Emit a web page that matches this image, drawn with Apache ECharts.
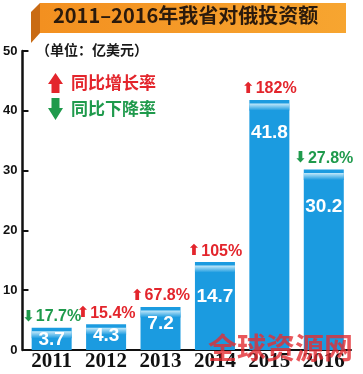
<!DOCTYPE html>
<html><head><meta charset="utf-8">
<script src="https://cdn.jsdelivr.net/npm/echarts@6/dist/echarts.min.js"></script>
<style>html,body{margin:0;padding:0;background:#fff}#c{width:363px;height:374px}</style>
</head><body><div id="c"></div>
<script>
const years = ['2011','2012','2013','2014','2015','2016'];
const values = [3.7, 4.3, 7.2, 14.7, 41.8, 30.2];
const changePct = ['17.7%', '15.4%', '67.8%', '105%', '182%', '27.8%'];
const changeDir = ['down', 'up', 'up', 'up', 'up', 'down'];
const yTicks = [0, 10, 20, 30, 40, 50];

// layout-only: vertical drop of value labels inside bars (px)
const valueLabelDrop = [-3, -3, 2, 20, 18, 23];

const RED = '#e3252c', GREEN = '#1f9a4c', BLUE = '#1b9be0';
const chart = echarts.init(document.getElementById('c'), null, {renderer: 'canvas'});

const pctData = values.map((v, i) => ({
  value: v,
  label: {
    formatter: changeDir[i] === 'up' ? '{ua|⬆}{u|' + changePct[i] + '}' : '{da|⬇}{d|' + changePct[i] + '}'
  }
}));
const valData = values.map((v, i) => ({
  value: v,
  label: { offset: [0, valueLabelDrop[i]] }
}));

chart.setOption({
  animation: false,
  grid: { left: 24, right: 12, top: 51, bottom: 24 },
  xAxis: {
    type: 'category', data: years,
    axisLine: { lineStyle: { color: '#111', width: 2 } },
    axisTick: { show: false },
    axisLabel: { color: '#111', fontFamily: 'Liberation Serif', fontWeight: 'bold', fontSize: 21, margin: 1, interval: 0 }
  },
  yAxis: {
    type: 'value', min: yTicks[0], max: yTicks[yTicks.length - 1], interval: 10, offset: 2,
    axisLine: { show: true, lineStyle: { color: '#111', width: 2.5 } },
    axisTick: { show: true, inside: true, length: 6, lineStyle: { color: '#111', width: 2 } },
    splitLine: { show: false },
    axisLabel: { color: '#111', fontFamily: 'Arial, Liberation Sans', fontWeight: 'bold', fontSize: 13, margin: 5 }
  },
  series: [
    {
      type: 'bar', data: pctData, barWidth: 40, barGap: '-100%', z: 2,
      itemStyle: { color: BLUE },
      label: {
        show: true, position: 'top', distance: 3,
        rich: {
          ua: { color: RED, fontSize: 15, fontFamily: 'DejaVu Sans', fontWeight: 'bold', padding: [0, 1, 0, 0] },
          u: { color: RED, fontSize: 16, fontFamily: 'Liberation Sans', fontWeight: 'bold' },
          da: { color: GREEN, fontSize: 15, fontFamily: 'DejaVu Sans', fontWeight: 'bold', padding: [0, 1, 0, 0] },
          d: { color: GREEN, fontSize: 16, fontFamily: 'Liberation Sans', fontWeight: 'bold' }
        }
      }
    },
    {
      type: 'pictorialBar', data: values, barWidth: 40, z: 3,
      symbol: 'rect', symbolSize: [40, 7], symbolPosition: 'end', symbolOffset: [0, '50%'],
      itemStyle: {
        color: new echarts.graphic.LinearGradient(0, 0, 0, 1, [
          { offset: 0, color: '#c4e9fa' }, { offset: 1, color: BLUE }
        ])
      }
    },
    {
      type: 'bar', data: valData, barWidth: 40, barGap: '-100%', z: 4,
      itemStyle: { color: 'rgba(0,0,0,0)' },
      label: {
        show: true, position: 'insideTop', distance: 5,
        color: '#fff', fontSize: 19, fontFamily: 'Liberation Sans', fontWeight: 'bold'
      }
    }
  ],
  graphic: [
    { type: 'polygon', shape: { points: [[31, 12], [40, 3], [40, 33], [31, 43]] }, style: { fill: '#c96b14' }, z: 10 },
    { type: 'rect', shape: { x: 40, y: 3, width: 306, height: 30 },
      style: { fill: new echarts.graphic.LinearGradient(0, 0, 1, 0, [{ offset: 0, color: '#f39020' }, { offset: 1, color: '#f7a530' }]) }, z: 10 },
    { type: 'text', left: 53, top: 5, z: 11,
      style: { text: '2011–2016年我省对俄投资额', fill: '#2b1a0c', font: 'bold 20px "Noto Sans CJK SC"' } },
    { type: 'text', left: 36, top: 43, z: 11,
      style: { text: '（单位：亿美元）', fill: '#1a1a1a', font: 'bold 14px "Noto Sans CJK SC"' } },
    { type: 'polygon', shape: { points: [[48, 84], [55.5, 73], [63, 84], [59.5, 84], [59.5, 93], [51.5, 93], [51.5, 84]] }, style: { fill: RED }, z: 11 },
    { type: 'text', left: 71, top: 74, z: 11,
      style: { text: '同比增长率', fill: RED, font: 'bold 17px "Noto Sans CJK SC"' } },
    { type: 'polygon', shape: { points: [[51.5, 98], [59.5, 98], [59.5, 108], [63, 108], [55.5, 120], [48, 108], [51.5, 108]] }, style: { fill: GREEN }, z: 11 },
    { type: 'text', left: 71, top: 100, z: 11,
      style: { text: '同比下降率', fill: GREEN, font: 'bold 17px "Noto Sans CJK SC"' } },
    { type: 'text', left: 208, top: 333, z: 20,
      style: { text: '全球资源网', fill: 'rgba(228,45,50,0.8)', font: 'bold 29px "Noto Sans CJK SC"' } }
  ]
});
</script></body></html>
